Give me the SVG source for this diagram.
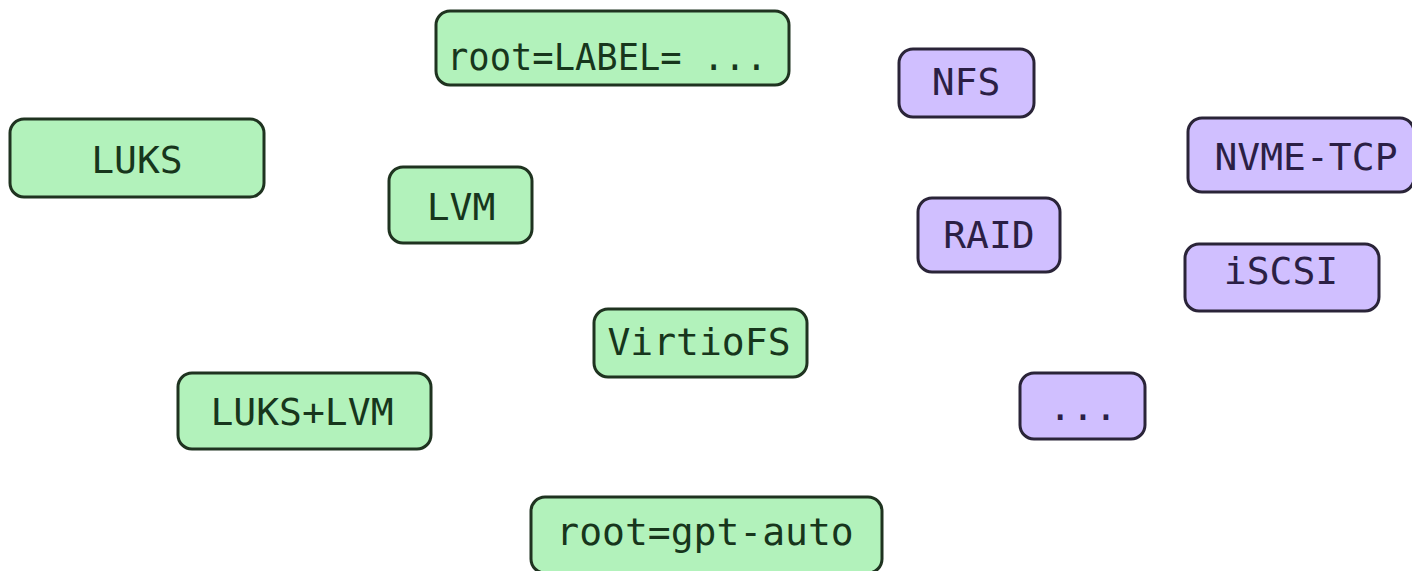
<svg xmlns="http://www.w3.org/2000/svg" width="1412" height="571" viewBox="0 0 1412 571">
  <style>
    .g rect { fill: #b2f2bb; stroke: #1f3320; stroke-width: 3; }
    .p rect { fill: #d0bfff; stroke: #2a2438; stroke-width: 3; }
    text { font-family: "DejaVu Sans Mono", "Liberation Mono", monospace; font-size: 38px; text-anchor: middle; }
    .g text { fill: #17361c; }
    .p text { fill: #2b1f45; }
  </style>
  <rect width="1412" height="571" fill="#ffffff"/>
  <g id="connectors"/>
  <g id="root-label" class="g">
    <rect x="436" y="11" width="353" height="74" rx="14"/>
    <text x="607" y="70" font-size="37" textLength="320" lengthAdjust="spacingAndGlyphs">root=LABEL= ...</text>
  </g>
  <g id="luks" class="g">
    <rect x="10" y="119" width="254" height="78" rx="14"/>
    <text x="137" y="173">LUKS</text>
  </g>
  <g id="lvm" class="g">
    <rect x="389" y="167" width="143" height="76" rx="14"/>
    <text x="461" y="220">LVM</text>
  </g>
  <g id="nfs" class="p">
    <rect x="899" y="49" width="135" height="68" rx="14"/>
    <text x="966" y="95">NFS</text>
  </g>
  <g id="nvme-tcp" class="p">
    <rect x="1188" y="118" width="226" height="74" rx="14"/>
    <text x="1306" y="170">NVME-TCP</text>
  </g>
  <g id="raid" class="p">
    <rect x="918" y="198" width="142" height="74" rx="14"/>
    <text x="989" y="248">RAID</text>
  </g>
  <g id="iscsi" class="p">
    <rect x="1185" y="244" width="194" height="67" rx="14"/>
    <text x="1281" y="284">iSCSI</text>
  </g>
  <g id="virtiofs" class="g">
    <rect x="594" y="309" width="213" height="68" rx="14"/>
    <text x="699" y="355">VirtioFS</text>
  </g>
  <g id="luks-lvm" class="g">
    <rect x="178" y="373" width="253" height="76" rx="14"/>
    <text x="302" y="425">LUKS+LVM</text>
  </g>
  <g id="more" class="p">
    <rect x="1020" y="373" width="125" height="66" rx="14"/>
    <text x="1083" y="420">...</text>
  </g>
  <g id="root-gpt-auto" class="g">
    <rect x="531" y="497" width="351" height="76" rx="14"/>
    <text x="705" y="545">root=gpt-auto</text>
  </g>
</svg>
